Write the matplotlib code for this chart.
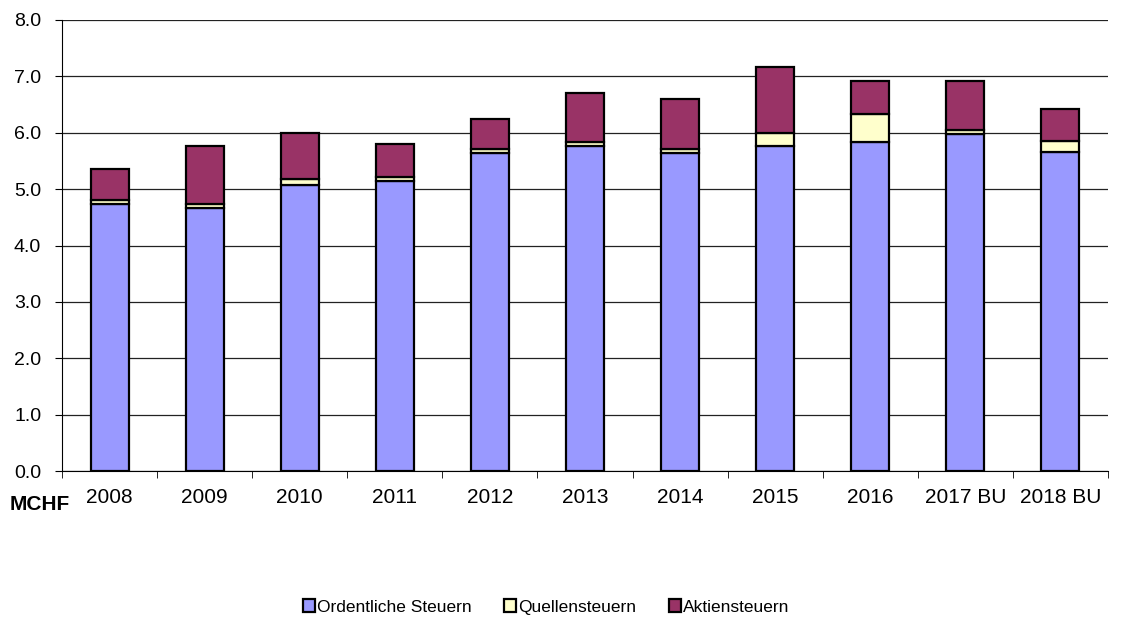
import matplotlib.pyplot as plt
import numpy as np

plt.rcParams['font.family'] = ['Liberation Sans', 'DejaVu Sans']

years = ['2008', '2009', '2010', '2011', '2012', '2013', '2014', '2015', '2016', '2017 BU', '2018 BU']
ordentliche = [4.73, 4.66, 5.08, 5.15, 5.64, 5.76, 5.64, 5.77, 5.84, 5.97, 5.65]
quellen = [0.08, 0.07, 0.10, 0.07, 0.08, 0.08, 0.07, 0.22, 0.50, 0.07, 0.21]
aktien = [0.55, 1.04, 0.81, 0.58, 0.53, 0.87, 0.88, 1.18, 0.57, 0.87, 0.56]

fig = plt.figure(figsize=(11.21, 6.19), dpi=100)
ax = fig.add_axes([62/1121, 1-471/619, (1108-62)/1121, (471-20)/619])

x = np.arange(len(years))
w = 0.4
ord_a = np.array(ordentliche)
q_a = np.array(quellen)
ax.bar(x, ordentliche, w, color='#9999FF', edgecolor='black', linewidth=1.6, label='Ordentliche Steuern', zorder=3)
ax.bar(x, quellen, w, bottom=ord_a, color='#FFFFCC', edgecolor='black', linewidth=1.6, label='Quellensteuern', zorder=3)
ax.bar(x, aktien, w, bottom=ord_a + q_a, color='#993366', edgecolor='black', linewidth=1.6, label='Aktiensteuern', zorder=3)

ax.set_xlim(-0.5, len(years) - 0.5)
ax.set_ylim(0, 8)
yt = np.arange(0, 8.1, 1)
ax.set_yticks(yt)
ax.set_yticklabels([f'{v:.1f}' for v in yt], fontsize=14)
ax.yaxis.grid(True, color='#222222', linewidth=0.9, zorder=0)
ax.set_axisbelow(True)

ax.set_xticks(x)
ax.set_xticklabels(years, fontsize=15)
ax.set_xticks(np.arange(-0.5, len(years), 1), minor=True)
ax.tick_params(axis='x', which='major', length=0, pad=12)
ax.tick_params(axis='x', which='minor', length=5, color='black')
ax.tick_params(axis='y', length=5, pad=10)

for s in ['top', 'right']:
    ax.spines[s].set_visible(False)
for s in ['left', 'bottom']:
    ax.spines[s].set_color('black')

fig.text(10/1121, 1-505/619, 'MCHF', fontsize=15, fontweight='bold', va='center', ha='left')

fig.legend(loc='center', bbox_to_anchor=(546/1121, 1-607/619), ncol=3, frameon=False,
           fontsize=12.5, handlelength=0.7, handleheight=0.7, handletextpad=0.1, columnspacing=1.9)

fig.savefig('out.png', dpi=100)
